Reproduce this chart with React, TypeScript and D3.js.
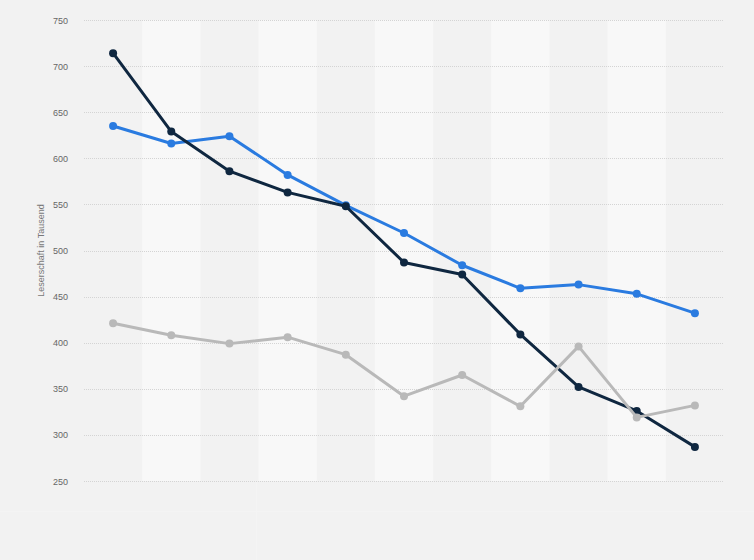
import React, { useEffect, useRef } from "react";
import * as d3 from "d3";

const categories = ["1", "2", "3", "4", "5", "6", "7", "8", "9", "10", "11"];
const seriesNavy = [714, 629, 586, 563, 548, 487, 474, 409, 352, 326, 287];
const seriesBlue = [635, 616, 624, 582, 549, 519, 484, 459, 463, 453, 432];
const seriesGray = [421, 408, 399, 406, 387, 342, 365, 331, 396, 319, 332];
const yTicks = [250, 300, 350, 400, 450, 500, 550, 600, 650, 700, 750];
const yTitle = "Leserschaft in Tausend";

const W = 754;
const H = 560;

export default function App() {
  const ref = useRef<SVGSVGElement | null>(null);

  useEffect(() => {
    document.body.style.margin = "0";
    const svg = d3.select(ref.current);
    svg.selectAll("*").remove();

    const left = 84, right = 724, top = 20, bottom = 481;
    const x = d3.scaleBand<string>().domain(categories).range([left, right]).padding(0);
    const y = d3.scaleLinear().domain([250, 750]).range([bottom, top]);

    svg.append("rect").attr("width", W).attr("height", H).attr("fill", "#f2f2f2");

    // faint panel lines below the plot
    svg.append("line").attr("x1", 0).attr("x2", W).attr("y1", 511.5).attr("y2", 511.5)
      .attr("stroke", "#f4f4f4").attr("stroke-width", 1);
    svg.append("line").attr("x1", 256.5).attr("x2", 256.5).attr("y1", 481).attr("y2", H)
      .attr("stroke", "#f4f4f4").attr("stroke-width", 1);

    // alternating column bands
    svg.append("g").selectAll("rect")
      .data(categories.filter((_, i) => i % 2 === 1))
      .join("rect")
      .attr("x", (d) => x(d)!)
      .attr("y", top)
      .attr("width", x.bandwidth())
      .attr("height", bottom - top)
      .attr("fill", "#f8f8f8");

    // grid lines
    svg.append("g").selectAll("line")
      .data(yTicks)
      .join("line")
      .attr("x1", left)
      .attr("x2", right)
      .attr("y1", (d) => Math.round(y(d)) + 0.5)
      .attr("y2", (d) => Math.round(y(d)) + 0.5)
      .attr("stroke", "#d4d4d4")
      .attr("stroke-width", 1)
      .attr("stroke-dasharray", "1,1");

    // tick labels
    svg.append("g").selectAll("text")
      .data(yTicks)
      .join("text")
      .attr("x", 68)
      .attr("y", (d) => y(d) + 3.5)
      .attr("text-anchor", "end")
      .attr("font-family", "Liberation Sans, Arial, sans-serif")
      .attr("font-size", 9)
      .attr("fill", "#666")
      .text((d) => String(d));

    svg.append("text")
      .attr("transform", `translate(43.5, ${(top + bottom) / 2}) rotate(-90)`)
      .attr("text-anchor", "middle")
      .attr("font-family", "Liberation Sans, Arial, sans-serif")
      .attr("font-size", 9)
      .attr("fill", "#777")
      .text(yTitle);

    const cx = (i: number) => x(categories[i])! + x.bandwidth() / 2;
    const line = d3.line<number>().x((_, i) => cx(i)).y((d) => y(d));

    const series = [
      { data: seriesBlue, color: "#2a7be0" },
      { data: seriesNavy, color: "#0f2740" },
      { data: seriesGray, color: "#b9b9b9" },
    ];

    series.forEach((s) => {
      const g = svg.append("g");
      g.append("path")
        .attr("d", line(s.data)!)
        .attr("fill", "none")
        .attr("stroke", s.color)
        .attr("stroke-width", 3)
        .attr("stroke-linejoin", "round")
        .attr("stroke-linecap", "round");
      g.selectAll("circle")
        .data(s.data)
        .join("circle")
        .attr("cx", (_, i) => cx(i))
        .attr("cy", (d) => y(d))
        .attr("r", 4)
        .attr("fill", s.color);
    });
  }, []);

  return <svg ref={ref} width={W} height={H} style={{ display: "block" }} />;
}
